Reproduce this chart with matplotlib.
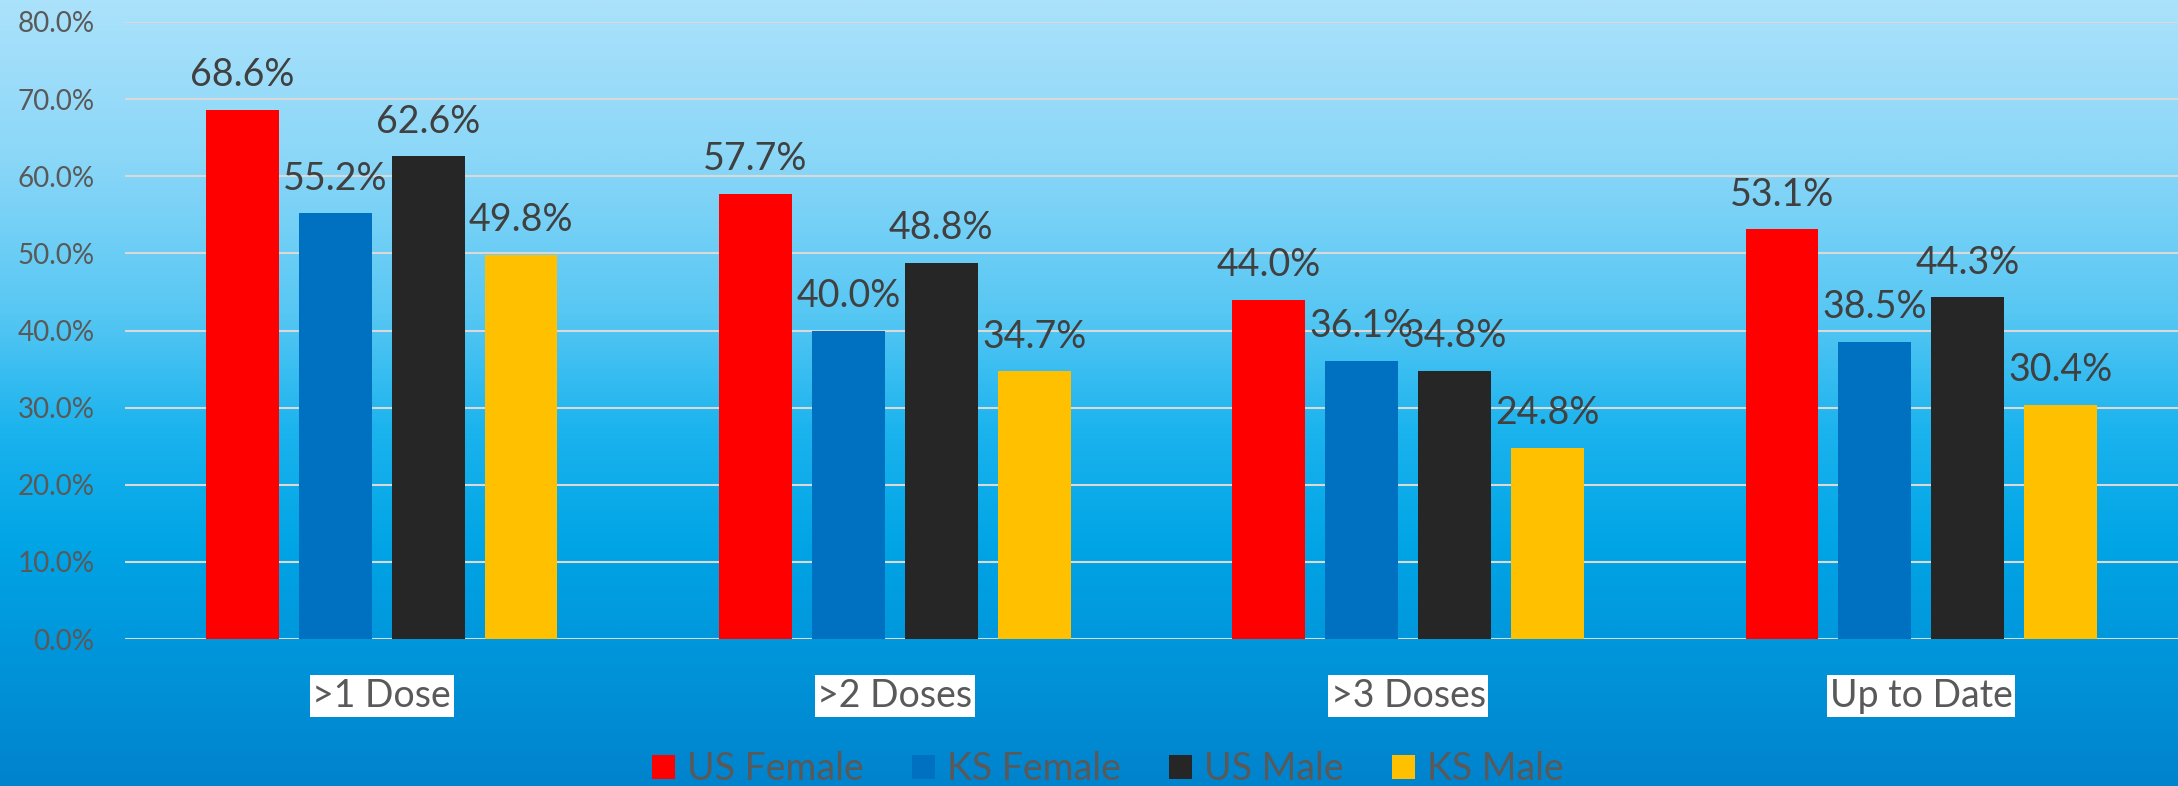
import numpy as np
import matplotlib
matplotlib.use("Agg")
import matplotlib.pyplot as plt
from matplotlib.patches import Patch
from matplotlib.colors import LinearSegmentedColormap
import matplotlib.transforms as mtransforms

# ---- data ----
categories = [">1 Dose", ">2 Doses", ">3 Doses", "Up to Date"]
series_names = ["US Female", "KS Female", "US Male", "KS Male"]
us_female = [68.6, 57.7, 44.0, 53.1]
ks_female = [55.2, 40.0, 36.1, 38.5]
us_male = [62.6, 48.8, 34.8, 44.3]
ks_male = [49.8, 34.7, 24.8, 30.4]
yticks = [0, 10, 20, 30, 40, 50, 60, 70, 80]

series_values = [us_female, ks_female, us_male, ks_male]
colors = ["#FF0000", "#0070C0", "#262626", "#FFC000"]

plt.rcParams['font.family'] = ['Lato', 'DejaVu Sans']

W, H = 2178, 786
fig = plt.figure(figsize=(W / 100, H / 100), dpi=100)

# gradient background
bg = fig.add_axes([0, 0, 1, 1], zorder=-10)
cmap = LinearSegmentedColormap.from_list(
    "bg", [(0.0, "#ABE2FB"), (0.2, "#8BD7F8"), (0.4, "#56C7F3"),
           (0.55, "#1AB3EE"), (0.7, "#00A4E5"), (1.0, "#0083CD")])
grad = np.linspace(0, 1, 512).reshape(-1, 1)
bg.imshow(grad, aspect='auto', cmap=cmap, extent=[0, 1, 0, 1], origin='upper')
bg.axis('off')

left, right, top, bottom = 125, 2178, 22, 639
ax = fig.add_axes([left / W, (H - bottom) / H, (right - left) / W, (bottom - top) / H])
ax.set_facecolor('none')

x = np.arange(len(categories))
width = 0.142
step = 0.181
for j, (vals, c) in enumerate(zip(series_values, colors)):
    xs = x + (j - 1.5) * step
    ax.bar(xs, vals, width=width, color=c, zorder=3, label=series_names[j])
    for xi, v in zip(xs, vals):
        ax.annotate(f"{v:.1f}%", (xi, v), xytext=(0, 17), textcoords='offset points',
                    ha='center', va='baseline', fontsize=27, color='#404040', zorder=4)

ax.set_xlim(-0.5, len(categories) - 0.5)
ax.set_ylim(0, 80)
ax.set_yticks(yticks)
ax.set_yticklabels([f"{t:.1f}%" for t in yticks], fontsize=20, color='#595959')
ax.tick_params(axis='y', length=0, pad=22)
ax.set_xticks([])
ax.grid(axis='y', color='#D9D9D9', linewidth=1.5, zorder=0)
ax.set_axisbelow(True)
for s in ax.spines.values():
    s.set_visible(False)

trans = mtransforms.blended_transform_factory(ax.transData, ax.transAxes)
for xi, cat in zip(x, categories):
    ax.text(xi, -68 / (bottom - top), cat, transform=trans, ha='center', va='baseline',
            fontsize=27, color='#595959',
            bbox=dict(facecolor='white', edgecolor='none', pad=2))

handles = [Patch(facecolor=c, edgecolor='none') for c in colors]
fig.legend(handles, series_names, loc='center', bbox_to_anchor=(1108 / W, 1 - 769 / H),
           ncol=4, frameon=False, fontsize=27, labelcolor='#595959',
           handlelength=0.62, handleheight=0.62, handletextpad=0.32, columnspacing=1.28,
           borderpad=0)

fig.savefig("out.png", dpi=100)
